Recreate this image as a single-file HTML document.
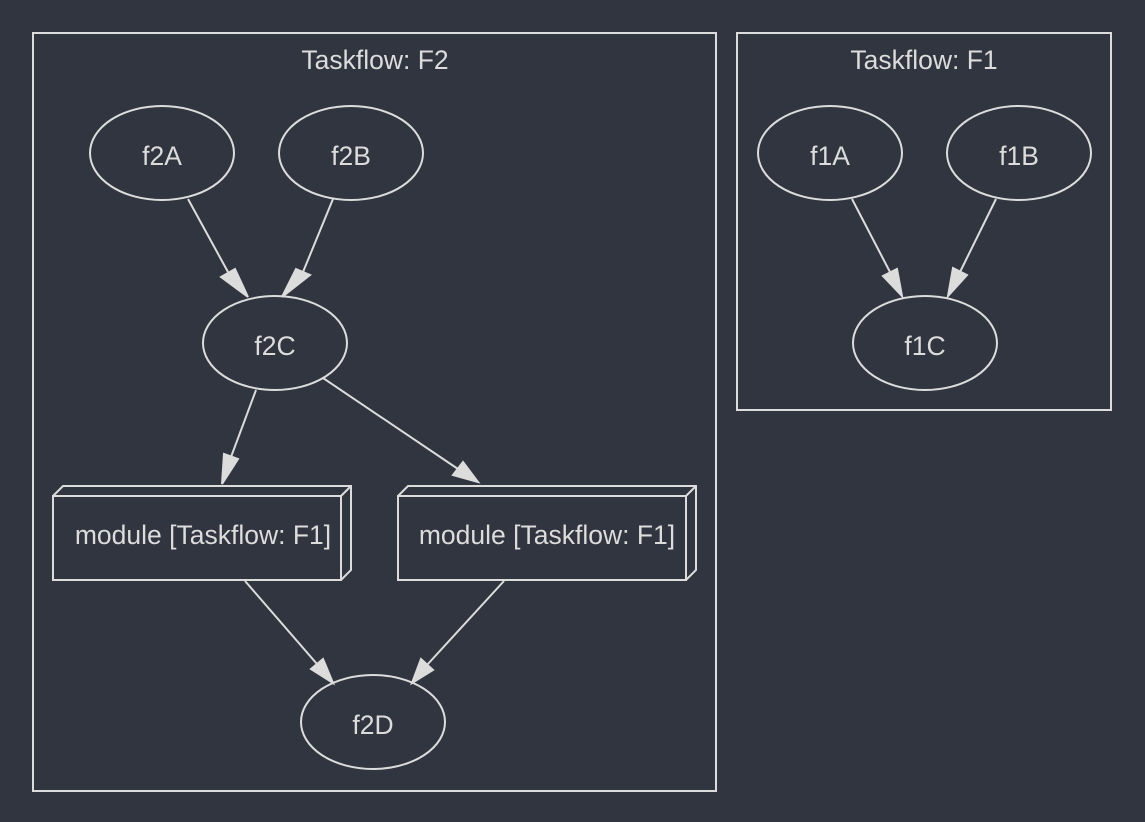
<!DOCTYPE html>
<html><head><meta charset="utf-8"><style>
html,body{margin:0;padding:0;background:#30353f;}
svg{display:block}
text{font-family:"Liberation Sans",Arial,sans-serif;font-size:26.5px;fill:#dcdcdc;text-anchor:middle;dominant-baseline:central}
</style></head><body>
<svg width="1145" height="822" viewBox="0 0 1145 822">
<rect width="1145" height="822" fill="#30353f"/>
<g fill="none" stroke="#dcdcdc" stroke-width="2">
<rect x="33" y="33" width="683" height="758"/>
<rect x="737" y="33" width="374" height="377"/>
<ellipse cx="162" cy="153" rx="72" ry="47"/>
<ellipse cx="351" cy="153" rx="72" ry="47"/>
<ellipse cx="275" cy="343" rx="72" ry="47"/>
<ellipse cx="373" cy="722" rx="72" ry="47"/>
<ellipse cx="830" cy="153" rx="72" ry="47"/>
<ellipse cx="1019" cy="153" rx="72" ry="47"/>
<ellipse cx="925" cy="343" rx="72" ry="47"/>
<path d="M53,496 H341 V580 H53 Z M53,496 L63,486 H351 V570 L341,580 M341,496 L351,486"/>
<path d="M398,496 H686 V580 H398 Z M398,496 L408,486 H696 V570 L686,580 M686,496 L696,486"/>
</g>
<g stroke="#dcdcdc" stroke-width="2" fill="#dcdcdc">
<line x1="188" y1="199" x2="228" y2="272"/><polygon points="221,277 235,269 248,297"/>
<line x1="333" y1="199" x2="303" y2="272"/><polygon points="296,269 310,275 282,297" />
<line x1="256" y1="390" x2="231" y2="457"/><polygon points="224,454 238,459 222,484"/>
<line x1="323" y1="378" x2="458" y2="469"/><polygon points="453,475 463,462 478,482"/>
<line x1="245" y1="581" x2="317" y2="664"/><polygon points="311,669 323,659 333,683"/>
<line x1="504" y1="581" x2="427" y2="665"/><polygon points="421,659 433,670 412,683"/>
<line x1="852" y1="199" x2="890" y2="272"/><polygon points="883,276 897,269 902,296"/>
<line x1="996" y1="199" x2="960" y2="272"/><polygon points="953,268 967,275 948,296"/>
</g>
<text x="375" y="60">Taskflow: F2</text>
<text x="924" y="60">Taskflow: F1</text>
<text x="162" y="156">f2A</text>
<text x="351" y="156">f2B</text>
<text x="275" y="346">f2C</text>
<text x="373" y="725">f2D</text>
<text x="830" y="156">f1A</text>
<text x="1019" y="156">f1B</text>
<text x="925" y="346">f1C</text>
<text x="203" y="535">module [Taskflow: F1]</text>
<text x="547" y="535">module [Taskflow: F1]</text>
</svg>
</body></html>
